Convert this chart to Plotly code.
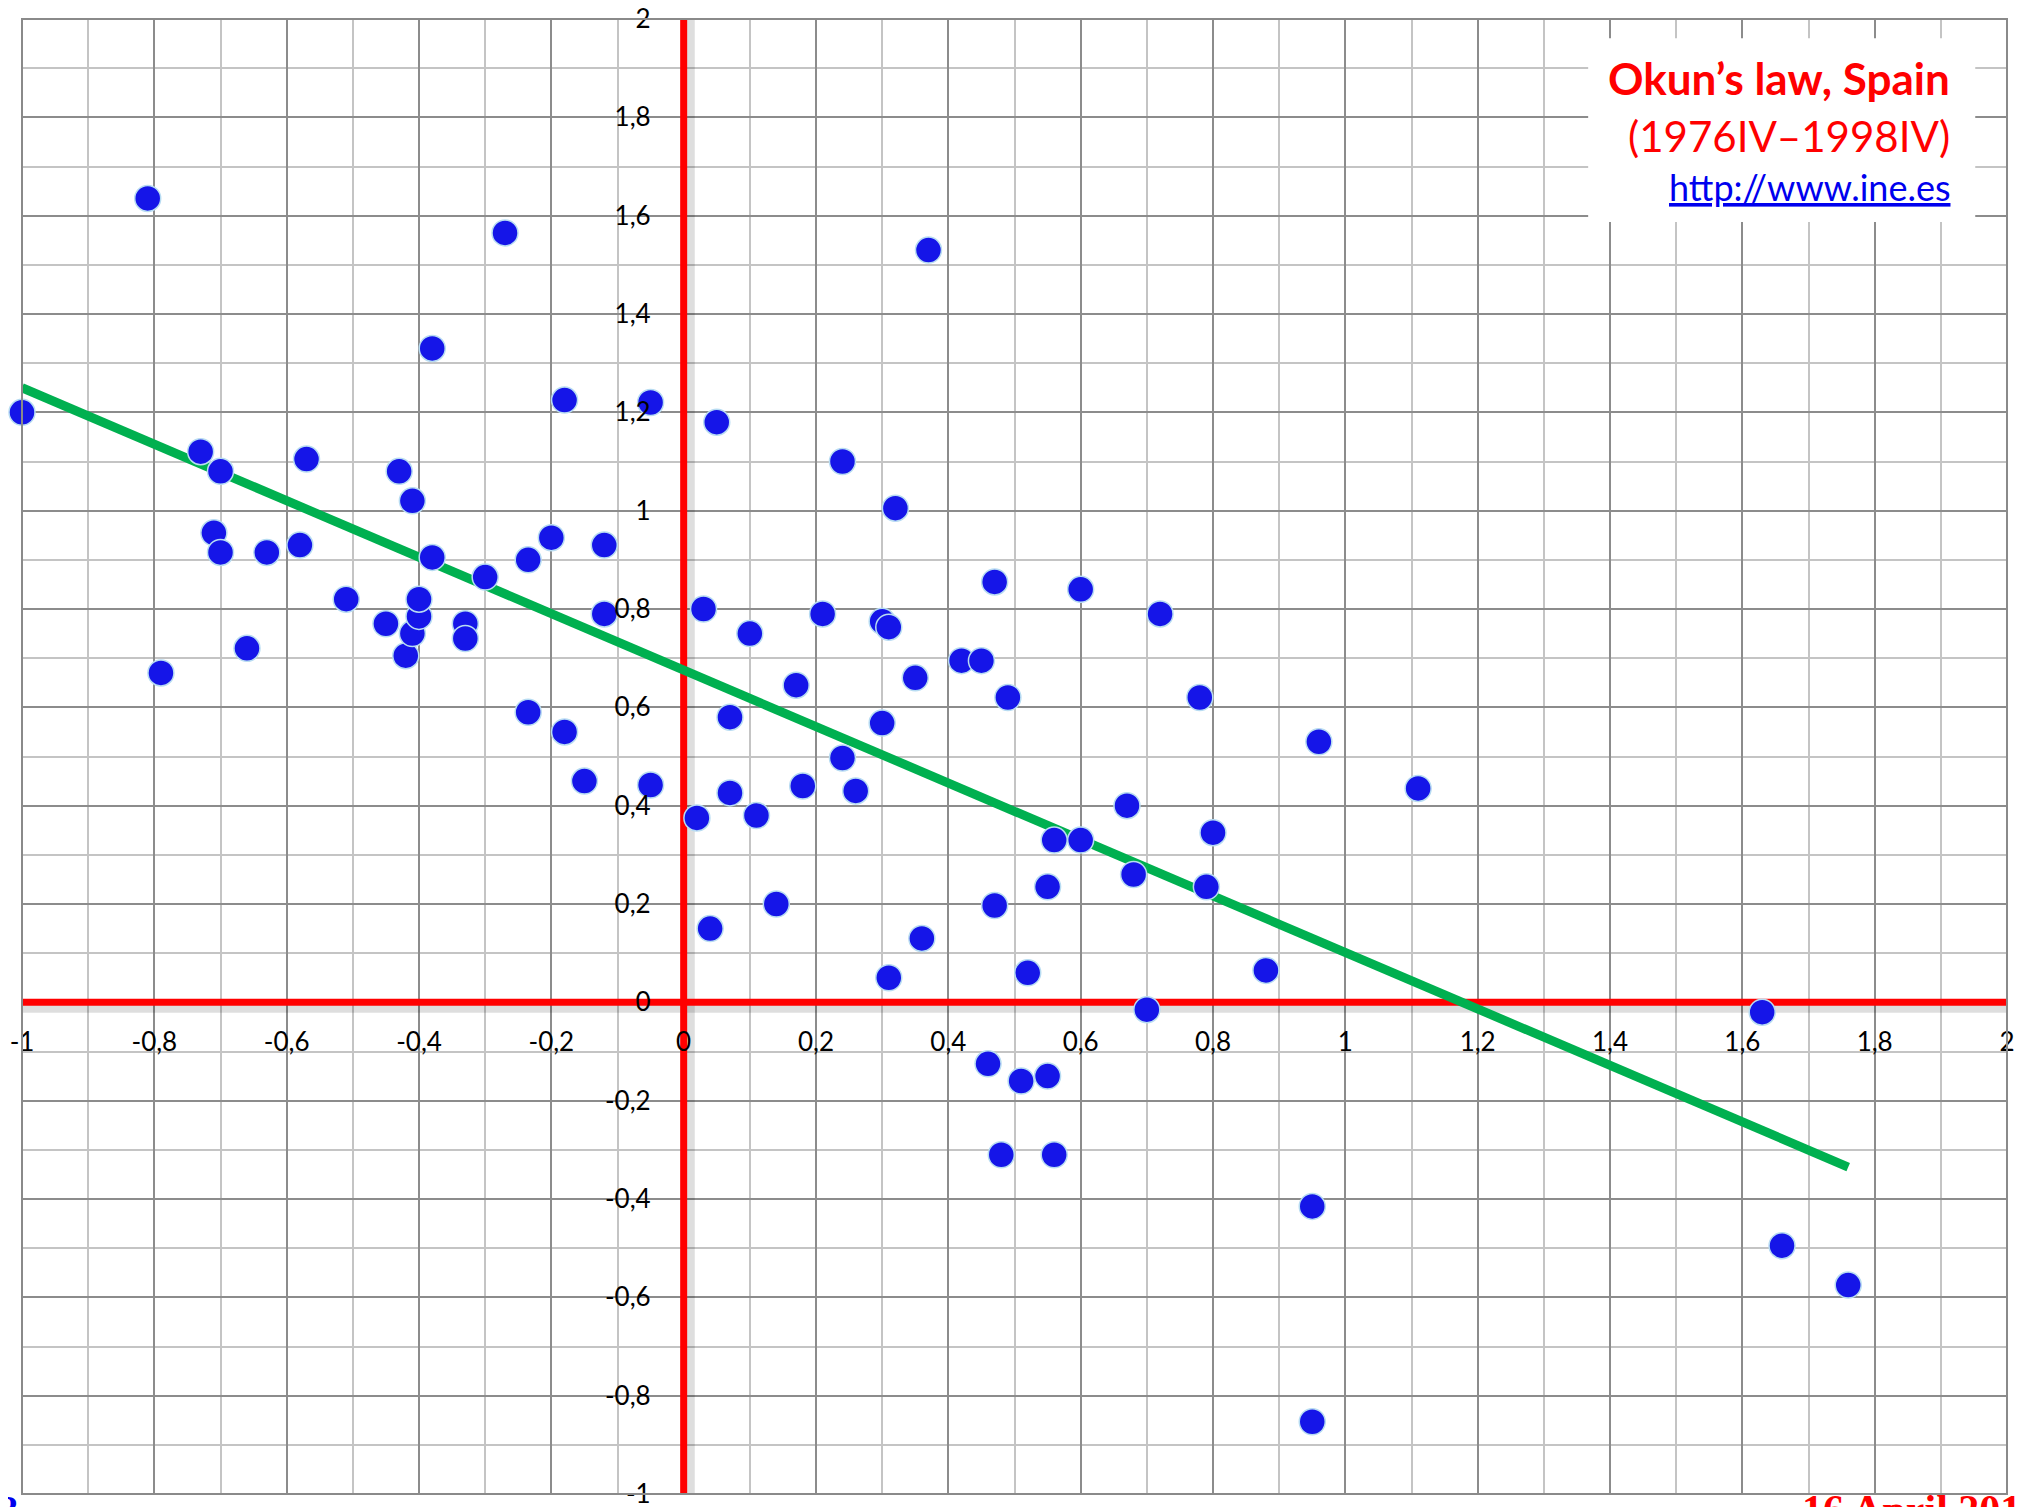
import plotly.graph_objects as go

x_vals = [-1.00, -0.81, -0.79, -0.73, -0.70, -0.71, -0.70, -0.66, -0.63, -0.58,
          -0.57, -0.51, -0.45, -0.43, -0.42, -0.41, -0.41, -0.40, -0.40, -0.38,
          -0.38, -0.33, -0.33, -0.30, -0.27, -0.235, -0.235, -0.20, -0.18, -0.18,
          -0.15, -0.12, -0.12, -0.05, -0.05, 0.02, 0.03, 0.04, 0.05, 0.07,
          0.07, 0.10, 0.11, 0.14, 0.17, 0.18, 0.21, 0.24, 0.24, 0.26,
          0.30, 0.31, 0.30, 0.31, 0.32, 0.35, 0.36, 0.37, 0.42, 0.45,
          0.46, 0.47, 0.47, 0.48, 0.49, 0.51, 0.52, 0.55, 0.55, 0.56,
          0.56, 0.60, 0.60, 0.67, 0.68, 0.70, 0.72, 0.78, 0.79, 0.80,
          0.88, 0.95, 0.95, 0.96, 1.11, 1.63, 1.66, 1.76]
y_vals = [1.20, 1.635, 0.67, 1.12, 1.08, 0.955, 0.915, 0.72, 0.915, 0.93,
          1.105, 0.82, 0.77, 1.08, 0.705, 1.02, 0.75, 0.785, 0.82, 0.905,
          1.33, 0.77, 0.74, 0.865, 1.565, 0.90, 0.59, 0.945, 1.225, 0.55,
          0.45, 0.93, 0.79, 1.22, 0.442, 0.375, 0.80, 0.15, 1.18, 0.58,
          0.426, 0.75, 0.38, 0.20, 0.645, 0.44, 0.79, 1.10, 0.497, 0.43,
          0.775, 0.763, 0.568, 0.05, 1.005, 0.66, 0.13, 1.53, 0.695, 0.695,
          -0.125, 0.855, 0.197, -0.31, 0.62, -0.16, 0.06, 0.235, -0.15, 0.33,
          -0.31, 0.84, 0.33, 0.40, 0.26, -0.015, 0.79, 0.62, 0.235, 0.345,
          0.065, -0.415, -0.853, 0.53, 0.435, -0.02, -0.495, -0.575]

# fitted line end points
trend_x = [-1.0, 1.76]
trend_y = [1.25, -0.335]

x_range = [-1, 2]
y_range = [-1, 2]

tick_vals = [-1, -0.8, -0.6, -0.4, -0.2, 0, 0.2, 0.4, 0.6, 0.8, 1, 1.2, 1.4, 1.6, 1.8, 2]
tick_text = ["-1", "-0,8", "-0,6", "-0,4", "-0,2", "0", "0,2", "0,4", "0,6", "0,8",
             "1", "1,2", "1,4", "1,6", "1,8", "2"]

title_lines = ["Okun’s law, Spain", "(1976IV–1998IV)", "http://www.ine.es"]
footer_left = "8"
footer_right = "16 April 2015"

RED = "#ff0000"
GREEN = "#00b050"
BLUE = "#1515e8"
FONT = "Lato"

fig = go.Figure()

fig.add_trace(go.Scatter(
    x=trend_x, y=trend_y,
    mode="lines",
    line=dict(color=GREEN, width=9),
    hoverinfo="skip",
    showlegend=False,
))

fig.add_trace(go.Scatter(
    x=x_vals, y=y_vals,
    mode="markers",
    marker=dict(size=26, color=BLUE, line=dict(color="#b8dcf2", width=1.5)),
    cliponaxis=False,
    showlegend=False,
))

# axis shadows, then the red axes through the origin
shadow = "rgba(0,0,0,0.13)"
fig.add_shape(type="line", xref="x", yref="y", x0=x_range[0], x1=x_range[1], y0=-0.012, y1=-0.012,
              line=dict(color=shadow, width=9), layer="between")
fig.add_shape(type="line", xref="x", yref="y", x0=0.01, x1=0.01, y0=y_range[0], y1=y_range[1],
              line=dict(color=shadow, width=9), layer="between")
fig.add_shape(type="line", xref="x", yref="y", x0=x_range[0], x1=x_range[1], y0=0, y1=0,
              line=dict(color=RED, width=7), layer="between")
fig.add_shape(type="line", xref="x", yref="y", x0=0, x1=0, y0=y_range[0], y1=y_range[1] + 0.015,
              line=dict(color=RED, width=7), layer="between")

# plot frame
fig.add_shape(type="rect", xref="paper", yref="paper", x0=0, x1=1, y0=0, y1=1,
              line=dict(color="#8a8a8a", width=2), layer="above")

# white box behind the title
fig.add_shape(type="rect", xref="x", yref="y", x0=1.367, x1=1.952, y0=1.587, y1=1.961,
              line=dict(width=0), fillcolor="white", layer="above")

fig.add_annotation(text="<b>" + title_lines[0] + "</b>", xref="paper", yref="paper",
                   x=0.9723, y=0.960, xanchor="right", yanchor="middle", showarrow=False,
                   font=dict(family=FONT, size=44, color=RED))
fig.add_annotation(text=title_lines[1], xref="paper", yref="paper",
                   x=0.9723, y=0.921, xanchor="right", yanchor="middle", showarrow=False,
                   font=dict(family=FONT, size=42, color=RED))
fig.add_annotation(text="<u>" + title_lines[2] + "</u>", xref="paper", yref="paper",
                   x=0.9723, y=0.886, xanchor="right", yanchor="middle", showarrow=False,
                   font=dict(family=FONT, size=36, color="#0000ee"))

# slide footers, mostly cut off by the page edge
fig.add_annotation(text="<b>" + footer_left + "</b>", xref="paper", yref="paper",
                   x=0, y=0, xanchor="left", yanchor="top", xshift=-26, yshift=9,
                   showarrow=False, font=dict(family="Liberation Serif", size=40, color="#0000ee"))
fig.add_annotation(text="<b>" + footer_right + "</b>", xref="paper", yref="paper",
                   x=0, y=0, xanchor="left", yanchor="top", xshift=1778, yshift=9,
                   showarrow=False, font=dict(family="Liberation Serif", size=42, color=RED))

grid_major = "#8c8c8c"
grid_minor = "#c4c4c4"

fig.update_layout(
    width=2030,
    height=1507,
    # page body adds 8px on the top and left
    margin=dict(l=14, r=31, t=11, b=21, autoexpand=False),
    paper_bgcolor="white",
    plot_bgcolor="white",
    font=dict(family=FONT, size=26, color="black"),
    xaxis=dict(
        range=x_range,
        tickvals=tick_vals,
        ticktext=tick_text,
        showgrid=True,
        gridcolor=grid_major,
        gridwidth=1.5,
        minor=dict(dtick=0.1, tick0=0, showgrid=True, gridcolor=grid_minor, gridwidth=1.5),
        zeroline=False,
        showline=False,
        anchor="free",
        position=1 / 3,
        ticks="",
        ticklabelstandoff=22,
        ticklabeloverflow="allow",
        automargin=False,
        tickfont=dict(family=FONT, size=26, color="black"),
        fixedrange=True,
    ),
    yaxis=dict(
        range=y_range,
        tickvals=tick_vals,
        ticktext=tick_text,
        showgrid=True,
        gridcolor=grid_major,
        gridwidth=1.5,
        minor=dict(dtick=0.1, tick0=0, showgrid=True, gridcolor=grid_minor, gridwidth=1.5),
        zeroline=False,
        showline=False,
        anchor="free",
        position=1 / 3,
        ticks="",
        ticklabelstandoff=33,
        ticklabeloverflow="allow",
        automargin=False,
        tickfont=dict(family=FONT, size=26, color="black"),
        fixedrange=True,
    ),
)

fig.write_html("out.html")
